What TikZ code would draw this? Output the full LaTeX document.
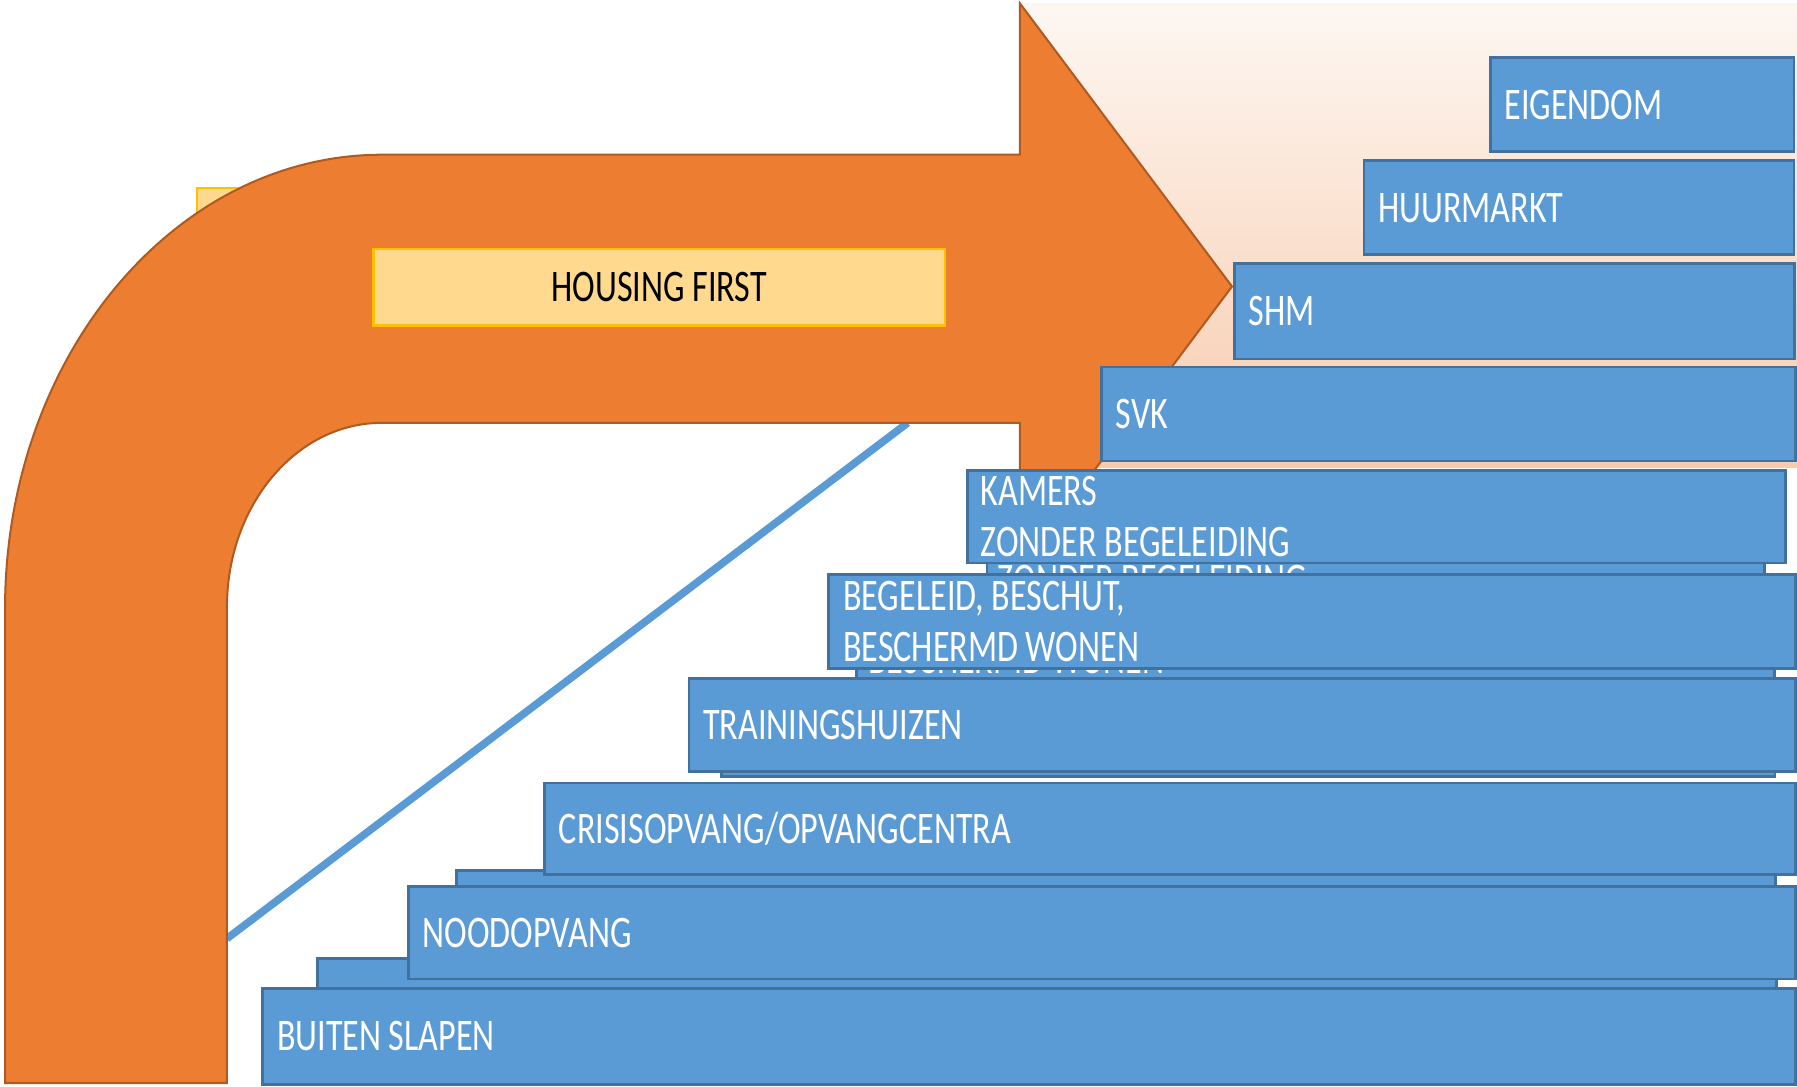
\documentclass[tikz,border=0pt]{standalone}
\usepackage{fontspec}
\setmainfont{Carlito}[FakeStretch=0.755]
\usepackage{tikz}
\usetikzlibrary{positioning}

\definecolor{arroworange}{RGB}{237,125,49}
\definecolor{arrowline}{RGB}{174,90,33}
\definecolor{stairblue}{RGB}{91,155,213}
\definecolor{stairline}{RGB}{65,113,156}
\definecolor{hfyellow}{RGB}{255,217,142}
\definecolor{hfline}{RGB}{255,192,0}
\definecolor{peachtop}{RGB}{253,247,242}
\definecolor{peachbottom}{RGB}{248,203,173}

\begin{document}
\begin{tikzpicture}[x=0.01cm,y=0.01cm,
	stair/.style={draw=stairline,fill=stairblue,line width=0.7pt,inner sep=0pt,anchor=north west},
	stairtext/.style={text=white,font=\fontsize{11.2}{12.5}\selectfont,align=left,inner sep=0pt}]

\useasboundingbox (0,0) rectangle (1568,948);

% peach field behind the arrow head
\shade[top color=peachtop,bottom color=peachbottom] (890,945) rectangle (1568,540);

% yellow piece behind the bend
\draw[fill=hfyellow,draw=hfline,line width=0.4pt] (172,784) rectangle (330,600);

% diagonal
\coordinate (diagstart) at (198,129);
\coordinate (diagend) at (792,579);
\draw[stairblue,line width=1.9pt] (diagstart) -- (diagend);

% bent arrow
\draw[fill=arroworange,draw=arrowline,line width=0.5pt] (4.4,3) -- (4.4,417)
	arc[start angle=180,end angle=90,x radius=329,y radius=396] -- (890,813)
	-- (890,945) -- (1075,698) -- (890,451) -- (890,579) -- (333,579)
	arc[start angle=90,end angle=180,x radius=135,y radius=161] -- (198,3) -- cycle;

\node[draw=hfline,fill=hfyellow,line width=0.6pt,inner sep=0pt,anchor=north west,
	minimum width=4.98cm,minimum height=0.67cm,font=\fontsize{11.2}{12.5}\selectfont]
	(housingfirst) at (325,732) {HOUSING FIRST};

% the stairs, top to bottom
\node[stair,minimum width=2.65cm,minimum height=0.82cm] (eigendom) at (1299,899) {};
\node[stairtext,right=0.13cm of eigendom.west] (eigendomtext) {EIGENDOM};

\node[stair,minimum width=3.75cm,minimum height=0.82cm] (huurmarkt) at (1189,809) {};
\node[stairtext,right=0.13cm of huurmarkt.west] (huurmarkttext) {HUURMARKT};

\node[stair,minimum width=4.88cm,minimum height=0.83cm] (shm) at (1076,719) {};
\node[stairtext,right=0.13cm of shm.west] (shmtext) {SHM};

\node[stair,minimum width=6.05cm,minimum height=0.82cm] (svk) at (960,629) {};
\node[stairtext,right=0.13cm of svk.west] (svktext) {SVK};

\node[stair,minimum width=6.78cm,minimum height=0.81cm] (kamersback) at (860,506) {};
\node[stairtext,right=0.10cm of kamersback.west] (kamersbacktext) {KAMERS\\ZONDER BEGELEIDING};
\node[stair,minimum width=7.13cm,minimum height=0.81cm] (kamers) at (843,539) {};
\node[stairtext,right=0.12cm of kamers.west] (kamerstext) {KAMERS\\ZONDER BEGELEIDING};

\node[stair,minimum width=8.01cm,minimum height=0.82cm] (begeleidback) at (746,437) {};
\node[stairtext,right=0.11cm of begeleidback.west] (begeleidbacktext) {BEGELEID, BESCHUT,\\BESCHERMD WONEN};
\node[stair,minimum width=8.43cm,minimum height=0.82cm] (begeleid) at (722,448) {};
\node[stairtext,right=0.13cm of begeleid.west] (begeleidtext) {BEGELEID, BESCHUT,\\BESCHERMD WONEN};

\node[stair,minimum width=9.19cm,minimum height=0.81cm] (trainingback) at (628,353) {};
\node[stair,minimum width=9.65cm,minimum height=0.81cm] (training) at (600,357) {};
\node[stairtext,right=0.13cm of training.west] (trainingtext) {TRAININGSHUIZEN};

\node[stair,minimum width=11.50cm,minimum height=0.82cm] (noodback) at (397,190) {};
\node[stair,minimum width=10.91cm,minimum height=0.80cm] (crisis) at (474,266) {};
\node[stairtext,right=0.13cm of crisis.west] (crisistext) {CRISISOPVANG/OPVANGCENTRA};

\node[stair,minimum width=12.72cm,minimum height=0.84cm] (buitenback) at (276,113) {};
\node[stair,minimum width=12.10cm,minimum height=0.81cm] (nood) at (355,176) {};
\node[stairtext,right=0.13cm of nood.west] (noodtext) {NOODOPVANG};

\node[stair,minimum width=13.37cm,minimum height=0.84cm] (buiten) at (228,87) {};
\node[stairtext,right=0.13cm of buiten.west] (buitentext) {BUITEN SLAPEN};
\end{tikzpicture}
\end{document}
